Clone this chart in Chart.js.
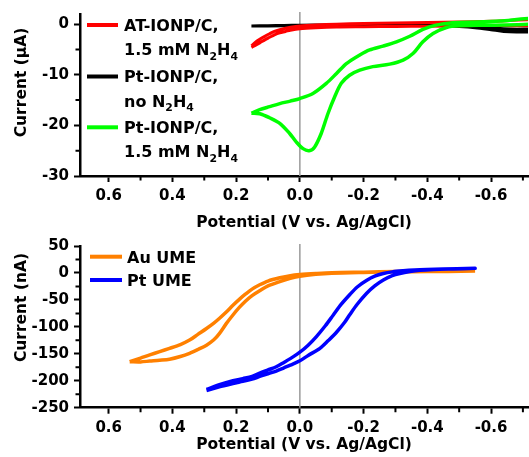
<!DOCTYPE html>
<html><head><meta charset="utf-8">
<script src="https://cdn.jsdelivr.net/npm/chart.js@4.4.0/dist/chart.umd.min.js"></script>
<style>
html,body{margin:0;padding:0;background:#fff;width:529px;height:457px;overflow:hidden}
canvas{position:absolute;left:0}
#c1{top:0}
#c2{top:232px}
</style></head><body>
<canvas id="c1" width="529" height="232"></canvas>
<canvas id="c2" width="529" height="225"></canvas>
<script>
// ---------- axis ticks & titles ----------
const xTickValues = [0.6, 0.4, 0.2, 0.0, -0.2, -0.4, -0.6];
const xMinorValues = [0.5, 0.3, 0.1, -0.1, -0.3, -0.5, -0.7];
const topYTicks = [0, -10, -20, -30];
const topYMinor = [-5, -15, -25];
const botYTicks = [50, 0, -50, -100, -150, -200, -250];
const botYMinor = [25, -25, -75, -125, -175, -225];
const xTitle = 'Potential (V vs. Ag/AgCl)';
const topYTitle = 'Current (\u03bcA)';
const botYTitle = 'Current (nA)';

// ---------- series labels ----------
const topSeriesLabels = [['AT-IONP/C,', '1.5 mM N\u2082H\u2084'], ['Pt-IONP/C,', 'no N\u2082H\u2084'], ['Pt-IONP/C,', '1.5 mM N\u2082H\u2084']];
const botSeriesLabels = [['Au UME'], ['Pt UME']];

// ---------- top panel data (V, uA) ----------
const redPotential = [0.152, 0.14, 0.126, 0.11, 0.095, 0.08, 0.063, 0.045, 0.03, 0.0, -0.05, -0.115, -0.2, -0.3, -0.4, -0.5, -0.6, -0.74,
  -0.74, -0.6, -0.5, -0.4, -0.3, -0.2, -0.115, -0.05, 0.0, 0.03, 0.045, 0.063, 0.08, 0.095, 0.11, 0.126, 0.14, 0.152];
const redCurrent = [-4.3, -3.6, -3.0, -2.4, -1.9, -1.45, -1.1, -0.8, -0.6, -0.35, -0.15, 0.0, 0.1, 0.2, 0.3, 0.4, 0.55, 0.8,
  -0.2, -0.25, -0.3, -0.4, -0.45, -0.5, -0.55, -0.7, -0.9, -1.2, -1.45, -1.7, -2.1, -2.6, -3.1, -3.7, -4.2, -4.6];

const blackPotential = [0.152, 0.1, 0.05, 0.0, -0.1, -0.2, -0.3, -0.4, -0.45, -0.5, -0.55, -0.6, -0.64, -0.68, -0.74,
  -0.74, -0.68, -0.64, -0.6, -0.55, -0.5, -0.45, -0.4, -0.3, -0.2, -0.1, 0.0, 0.1, 0.152];
const blackCurrent = [-0.35, -0.3, -0.25, -0.2, -0.18, -0.15, -0.15, -0.2, -0.3, -0.45, -0.7, -1.1, -1.45, -1.55, -1.5,
  -1.0, -1.0, -0.9, -0.7, -0.45, -0.3, -0.25, -0.2, -0.2, -0.2, -0.25, -0.3, -0.35, -0.35];

const greenPotential = [0.152, 0.126, 0.095, 0.063, 0.03, 0.0, -0.041, -0.083, -0.115, -0.146, -0.188, -0.219, -0.261, -0.303, -0.345, -0.386, -0.428, -0.48, -0.554, -0.627, -0.74,
  -0.74, -0.606, -0.5, -0.46, -0.418, -0.386, -0.355, -0.324, -0.282, -0.229, -0.188, -0.156, -0.13, -0.109, -0.088, -0.067, -0.046, -0.029, -0.01, 0.011, 0.032, 0.063, 0.095, 0.126, 0.152];
const greenCurrent = [-17.6, -16.9, -16.3, -15.7, -15.2, -14.7, -13.7, -11.7, -9.75, -7.8, -6.1, -5.1, -4.35, -3.5, -2.4, -1.05, -0.2, 0.26, 0.4, 0.6, 1.1,
  0.1, -0.2, -0.33, -0.66, -1.85, -3.5, -5.8, -7.1, -7.9, -8.4, -9.1, -10.1, -11.7, -14.4, -17.7, -21.6, -24.3, -25.0, -24.6, -23.3, -21.6, -19.6, -18.5, -17.7, -17.6];

// ---------- bottom panel data (V, nA) ----------
const auPotential = [0.534, 0.5, 0.471, 0.44, 0.409, 0.375, 0.346, 0.32, 0.293, 0.27, 0.252, 0.23, 0.21, 0.19, 0.17, 0.15, 0.126, 0.1, 0.063, 0.03, 0.0, -0.05, -0.1, -0.2, -0.3, -0.4, -0.55,
  -0.4, -0.3, -0.2, -0.1, -0.05, 0.0, 0.03, 0.063, 0.1, 0.126, 0.15, 0.17, 0.19, 0.21, 0.231, 0.252, 0.27, 0.293, 0.32, 0.346, 0.375, 0.409, 0.44, 0.471, 0.5, 0.534];
const auCurrent = [-164.8, -158, -152, -146, -140, -133, -124.6, -114, -103, -93, -84, -72, -60, -49, -39, -30, -22, -15, -9, -5, -3, -1, 0.5, 1.5, 2.5, 3, 3.5,
  2.5, 2, 1, -0.5, -2.5, -6, -10, -16, -24, -33, -42, -52, -64, -78, -94, -112, -124, -134, -142, -149, -155, -160, -162, -163.5, -165, -164.8];

const ptPotential = [0.293, 0.25, 0.21, 0.179, 0.15, 0.126, 0.1, 0.074, 0.05, 0.03, 0.0, -0.026, -0.052, -0.08, -0.105, -0.13, -0.157, -0.18, -0.209, -0.235, -0.262, -0.29, -0.324, -0.36, -0.398, -0.45, -0.55,
  -0.48, -0.42, -0.377, -0.345, -0.314, -0.29, -0.262, -0.235, -0.209, -0.18, -0.157, -0.14, -0.115, -0.09, -0.063, -0.026, 0.0, 0.03, 0.05, 0.074, 0.1, 0.126, 0.15, 0.179, 0.21, 0.25, 0.293];
const ptCurrent = [-216, -207, -200, -196, -192, -186, -180, -174, -166, -159, -147, -134, -118, -98, -78, -58, -40, -26, -14, -6, -1, 2, 4, 5.5, 6.5, 7.5, 8.5,
  7.5, 6.5, 5, 2.5, -1, -5, -13, -24, -38, -58, -77, -92, -110, -125, -140, -153, -163, -171, -176, -182, -187, -192, -197, -201, -205, -211, -218];

// ---------- helpers ----------
const FAMILY = 'DejaVu Sans';
const pts = (xs, ys) => xs.map((v, i) => ({x: v, y: ys[i]}));
const SUB = {'\u2080':'0','\u2081':'1','\u2082':'2','\u2083':'3','\u2084':'4'};
function drawRich(ctx, text, x, y, size) {
  let buf = '';
  const flush = () => {
    if (!buf) return;
    ctx.font = 'bold ' + size + 'px "' + FAMILY + '"';
    ctx.fillText(buf, x, y);
    x += ctx.measureText(buf).width;
    buf = '';
  };
  for (const ch of text) {
    if (SUB[ch]) {
      flush();
      ctx.font = 'bold ' + (size * 0.68) + 'px "' + FAMILY + '"';
      ctx.fillText(SUB[ch], x, y + size * 0.3);
      x += ctx.measureText(SUB[ch]).width;
    } else buf += ch;
  }
  flush();
}

const extras = {
  id: 'extras',
  beforeDatasetsDraw(chart, args, o) {
    const ctx = chart.ctx, a = chart.chartArea, xs = chart.scales.x;
    const px = xs.getPixelForValue(0);
    ctx.save();
    ctx.strokeStyle = '#9a9a9a'; ctx.lineWidth = 1.5;
    ctx.beginPath(); ctx.moveTo(px, a.top - 2); ctx.lineTo(px, a.bottom); ctx.stroke();
    ctx.restore();
  },
  afterDraw(chart, args, o) {
    const ctx = chart.ctx, a = chart.chartArea, xs = chart.scales.x, ys = chart.scales.y;
    ctx.save();
    // minor ticks
    ctx.strokeStyle = '#000'; ctx.lineWidth = 2;
    ctx.beginPath();
    o.xMinor.forEach(v => { const p = xs.getPixelForValue(v); if (p < a.left || p > a.right) return; ctx.moveTo(p, a.bottom); ctx.lineTo(p, a.bottom + 4.5); });
    o.yMinor.forEach(v => { const p = ys.getPixelForValue(v); ctx.moveTo(a.left, p); ctx.lineTo(a.left - 4.5, p); });
    ctx.stroke();
    // y title
    ctx.fillStyle = '#000';
    ctx.save();
    ctx.translate(o.yTitleX, o.yTitleY);
    ctx.rotate(-Math.PI / 2);
    ctx.font = 'bold 15.5px "' + FAMILY + '"';
    ctx.textAlign = 'center'; ctx.textBaseline = 'middle';
    ctx.fillText(o.yTitle, 0, 0);
    ctx.restore();
    // legend
    ctx.textAlign = 'left'; ctx.textBaseline = 'alphabetic';
    o.legend.forEach(it => {
      const ds = chart.data.datasets[it.dataset];
      ctx.strokeStyle = ds.borderColor; ctx.lineWidth = 4;
      ctx.beginPath(); ctx.moveTo(o.legX1, it.y); ctx.lineTo(o.legX2, it.y); ctx.stroke();
      ctx.fillStyle = '#000';
      ds.legendLines.forEach((t, j) => drawRich(ctx, t, o.legTextX, it.y + 5.8 + j * 24.2, 16));
    });
    ctx.restore();
  }
};

function makeOptions(yMin, yMax, yTicks, yMinor, yTitle, xHeight, padTop, titlePadBottom, plug) {
  const tickFont = {family: FAMILY, size: 15, weight: 'bold'};
  return {
    responsive: false, maintainAspectRatio: false, animation: false, devicePixelRatio: 1,
    layout: {padding: {top: padTop, left: 0, right: 1, bottom: 0}},
    plugins: {legend: {display: false}, tooltip: {enabled: false}, extras: Object.assign({xMinor: xMinorValues, yMinor: yMinor, yTitle: yTitle}, plug)},
    scales: {
      x: {
        type: 'linear', reverse: true, min: -0.716, max: 0.69,
        afterBuildTicks: s => { s.ticks = xTickValues.map(v => ({value: v})); },
        afterFit: s => { s.height = xHeight; },
        ticks: {font: tickFont, color: '#000', padding: 5, maxRotation: 0, autoSkip: false, callback: v => v.toFixed(1)},
        grid: {drawOnChartArea: false, drawTicks: true, tickLength: 6, tickWidth: 2, color: '#000'},
        border: {display: true, color: '#000', width: 2.5},
        title: {display: true, text: xTitle, color: '#000', font: {family: FAMILY, size: 15.5, weight: 'bold'}, padding: {top: 0, bottom: titlePadBottom}}
      },
      y: {
        type: 'linear', min: yMin, max: yMax,
        afterBuildTicks: s => { s.ticks = yTicks.map(v => ({value: v})); },
        afterFit: s => { s.width = 80; },
        ticks: {font: tickFont, color: '#000', padding: 5, autoSkip: false, callback: v => String(v)},
        grid: {drawOnChartArea: false, drawTicks: true, tickLength: 6, tickWidth: 2, color: '#000'},
        border: {display: true, color: '#000', width: 2.5}
      }
    }
  };
}

const lineDs = (label, lines, xs, ys, color, width, order) => ({
  label: label, legendLines: lines, data: pts(xs, ys), showLine: true, borderColor: color, backgroundColor: color,
  borderWidth: width, pointRadius: 0, pointHoverRadius: 0, fill: false, tension: 0.3, order: order
});

new Chart(document.getElementById('c1'), {
  type: 'scatter',
  data: {datasets: [
    lineDs(topSeriesLabels[0].join(' '), topSeriesLabels[0], redPotential, redCurrent, '#ff0000', 3, 1),
    lineDs(topSeriesLabels[1].join(' '), topSeriesLabels[1], blackPotential, blackCurrent, '#000000', 3, 2),
    lineDs(topSeriesLabels[2].join(' '), topSeriesLabels[2], greenPotential, greenCurrent, '#00ff00', 3.5, 0)
  ]},
  options: makeOptions(-30, 2, topYTicks, topYMinor, topYTitle, 56, 14, 0, {
    yTitleX: 22, yTitleY: 82.5, legX1: 87, legX2: 118, legTextX: 124,
    legend: [{dataset: 0, y: 25}, {dataset: 1, y: 76.5}, {dataset: 2, y: 127.3}]
  }),
  plugins: [extras]
});

new Chart(document.getElementById('c2'), {
  type: 'scatter',
  data: {datasets: [
    lineDs(botSeriesLabels[0].join(' '), botSeriesLabels[0], auPotential, auCurrent, '#ff8000', 3.5, 1),
    lineDs(botSeriesLabels[1].join(' '), botSeriesLabels[1], ptPotential, ptCurrent, '#0000ff', 3.5, 0)
  ]},
  options: makeOptions(-250, 50, botYTicks, botYMinor, botYTitle, 49.3, 13.7, 3, {
    yTitleX: 22, yTitleY: 75.5, legX1: 90, legX2: 122, legTextX: 127,
    legend: [{dataset: 0, y: 24.7}, {dataset: 1, y: 48}]
  }),
  plugins: [extras]
});
</script></body></html>
